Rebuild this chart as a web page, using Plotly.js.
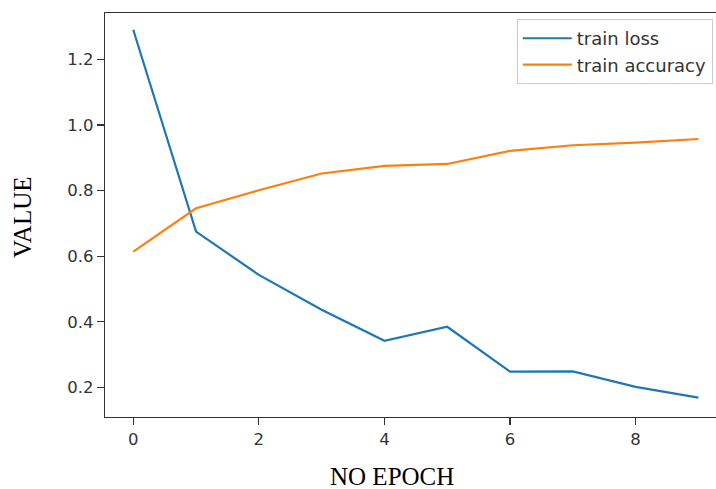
<!DOCTYPE html>
<html>
<head>
<meta charset="utf-8">
<script src="https://cdn.plot.ly/plotly-3.0.1.min.js"></script>
<style>
html,body{margin:0;padding:0;overflow:hidden;background:#fff;}
#chart{width:716px;height:489px;}
</style>
</head>
<body>
<div id="chart"></div>
<script>
var epochs = [0, 1, 2, 3, 4, 5, 6, 7, 8, 9];
var trainLoss = [1.290, 0.675, 0.543, 0.437, 0.342, 0.385, 0.248, 0.249, 0.202, 0.169];
var trainAccuracy = [0.614, 0.746, 0.801, 0.852, 0.875, 0.881, 0.921, 0.938, 0.946, 0.957];
var seriesNames = ["train loss", "train accuracy"];
var xTicks = [0, 2, 4, 6, 8];
var yTicks = [0.2, 0.4, 0.6, 0.8, 1.0, 1.2];
var yTickLabels = ["0.2", "0.4", "0.6", "0.8", "1.0", "1.2"];
var xLabel = "NO EPOCH";
var yLabel = "VALUE";

var traces = [
  {x: epochs, y: trainLoss, name: seriesNames[0], type: "scatter", mode: "lines",
   line: {color: "#1f77b4", width: 2.2}},
  {x: epochs, y: trainAccuracy, name: seriesNames[1], type: "scatter", mode: "lines",
   line: {color: "#ff7f0e", width: 2.2}}
];

var tickFont = {family: "DejaVu Sans", size: 16.5, color: "#333333"};

var layout = {
  width: 716, height: 489,
  margin: {l: 105, r: 0, t: 13, b: 72, pad: 0},
  paper_bgcolor: "#ffffff", plot_bgcolor: "#ffffff",
  showlegend: true,
  xaxis: {
    range: [-0.45, 9.28], tickvals: xTicks, ticktext: xTicks.map(String),
    showgrid: false, zeroline: false, showline: true, mirror: true,
    linecolor: "#333333", linewidth: 1.3,
    ticks: "outside", ticklen: 7, tickwidth: 1.2, tickcolor: "#333333",
    tickfont: tickFont
  },
  yaxis: {
    range: [0.11, 1.341], tickvals: yTicks, ticktext: yTickLabels,
    showgrid: false, zeroline: false, showline: true, mirror: false,
    linecolor: "#333333", linewidth: 1.3,
    ticks: "outside", ticklen: 7, tickwidth: 1.2, tickcolor: "#333333",
    tickfont: tickFont
  },
  legend: {
    x: 0.674, y: 0.985, xanchor: "left", yanchor: "top",
    bgcolor: "rgba(255,255,255,0.8)", bordercolor: "#cccccc", borderwidth: 1,
    font: {family: "DejaVu Sans", size: 18, color: "#333333"},
    itemwidth: 49, tracegroupgap: 0
  },
  annotations: [
    {text: xLabel, xref: "paper", yref: "paper", x: (392 - 105) / 611, y: -(477 - 417) / 404,
     xanchor: "center", yanchor: "middle", showarrow: false,
     font: {family: "Liberation Serif", size: 25, color: "#000000"}},
    {text: yLabel, xref: "paper", yref: "paper", x: -(105 - 22) / 611, y: 1 - (218 - 13) / 404,
     xanchor: "center", yanchor: "middle", showarrow: false, textangle: -90,
     font: {family: "Liberation Serif", size: 25, color: "#000000"}}
  ]
};

Plotly.newPlot("chart", traces, layout, {displayModeBar: false, staticPlot: true});
</script>
</body>
</html>
